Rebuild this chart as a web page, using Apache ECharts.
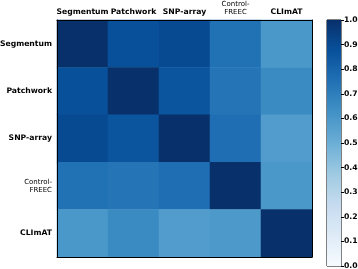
<!DOCTYPE html>
<html>
<head>
<meta charset="utf-8">
<script src="https://cdn.jsdelivr.net/npm/echarts@6/dist/echarts.min.js"></script>
<style>
  html, body { margin: 0; padding: 0; background: #fff; }
  #chart { width: 358px; height: 269px; }
</style>
</head>
<body>
<div id="chart"></div>
<script>
// methods, same order on both axes
const methods = ["Segmentum", "Patchwork", "SNP-array", "Control-\nFREEC", "CLImAT"];

// similarity matrix, row by row
const rowSegmentum = [1.0, 0.88, 0.9, 0.75, 0.6];
const rowPatchwork = [0.88, 1.0, 0.86, 0.74, 0.65];
const rowSnpArray = [0.9, 0.86, 1.0, 0.76, 0.58];
const rowControlFreec = [0.75, 0.74, 0.76, 1.0, 0.6];
const rowClimat = [0.6, 0.65, 0.58, 0.59, 1.0];
const rows = [rowSegmentum, rowPatchwork, rowSnpArray, rowControlFreec, rowClimat];

// colour bar
const barTicks = [0, 0.1, 0.2, 0.3, 0.4, 0.5, 0.6, 0.7, 0.8, 0.9, 1.0];
const blues = ["#f7fbff", "#deebf7", "#c6dbef", "#9ecae1", "#6baed6", "#4292c6", "#2171b5", "#08519c", "#08306b"];

const heatData = [];
rows.forEach((r, yi) => r.forEach((v, xi) => heatData.push([xi, yi, v])));

// two-line names get a smaller font, like in the original figure
const cats = methods.map((m) =>
  m.includes("\n") ? { value: m, textStyle: { fontSize: 7, fontWeight: "normal", lineHeight: 8 } } : m);

const chart = echarts.init(document.getElementById("chart"));
const font = "DejaVu Sans";
const label = { color: "#000", fontSize: 7.7, fontWeight: "bold", fontFamily: font };

const option = {
  animation: false,
  grid: [
    { left: 57, top: 20, width: 255, height: 237, outerBoundsMode: "none" },
    { left: 327, top: 20, width: 14, height: 246, outerBoundsMode: "none", show: true, borderColor: "#000", borderWidth: 1 },
  ],
  visualMap: {
    show: false,
    min: 0,
    max: 1,
    seriesIndex: 0,
    inRange: { color: blues },
  },
  xAxis: [
    {
      type: "category", gridIndex: 0, data: cats, position: "top", z: 10,
      axisLine: { lineStyle: { color: "#000", width: 1 } },
      axisTick: { inside: true, length: 3, alignWithLabel: true, lineStyle: { color: "#000" } },
      axisLabel: { ...label, interval: 0, margin: 4, hideOverlap: false },
      splitLine: { show: false },
    },
    {
      type: "category", gridIndex: 0, data: methods, position: "bottom", z: 10,
      axisLine: { lineStyle: { color: "#000", width: 1 } },
      axisTick: { inside: true, length: 3, alignWithLabel: true, lineStyle: { color: "#000" } },
      axisLabel: { show: false },
    },
    {
      type: "category", gridIndex: 1, data: ["c"],
      axisLine: { show: false }, axisTick: { show: false }, axisLabel: { show: false },
    },
  ],
  yAxis: [
    {
      type: "category", gridIndex: 0, data: cats, inverse: true, position: "left", z: 10,
      axisLine: { lineStyle: { color: "#000", width: 1 } },
      axisTick: { inside: true, length: 3, alignWithLabel: true, lineStyle: { color: "#000" } },
      axisLabel: { ...label, interval: 0, margin: 5, align: "right" },
    },
    {
      type: "category", gridIndex: 0, data: methods, inverse: true, position: "right", z: 10,
      axisLine: { lineStyle: { color: "#000", width: 1 } },
      axisTick: { inside: true, length: 3, alignWithLabel: true, lineStyle: { color: "#000" } },
      axisLabel: { show: false },
    },
    {
      type: "value", gridIndex: 1, min: 0, max: 1, interval: 0.1, position: "right", z: 10,
      axisLine: { show: false },
      axisTick: { show: true, length: 3, lineStyle: { color: "#000" } },
      axisLabel: { ...label, margin: 3, formatter: (v) => v.toFixed(1) },
      splitLine: { show: false },
    },
  ],
  series: [
    {
      type: "heatmap",
      xAxisIndex: 0,
      yAxisIndex: 0,
      data: heatData,
      itemStyle: { borderWidth: 0 },
      silent: true,
    },
    {
      type: "bar",
      xAxisIndex: 2,
      yAxisIndex: 2,
      data: [barTicks[barTicks.length - 1]],
      barWidth: "100%",
      silent: true,
      itemStyle: {
        color: new echarts.graphic.LinearGradient(0, 1, 0, 0,
          blues.map((c, i) => ({ offset: i / (blues.length - 1), color: c }))),
      },
    },
  ],
};

chart.setOption(option);
</script>
</body>
</html>
